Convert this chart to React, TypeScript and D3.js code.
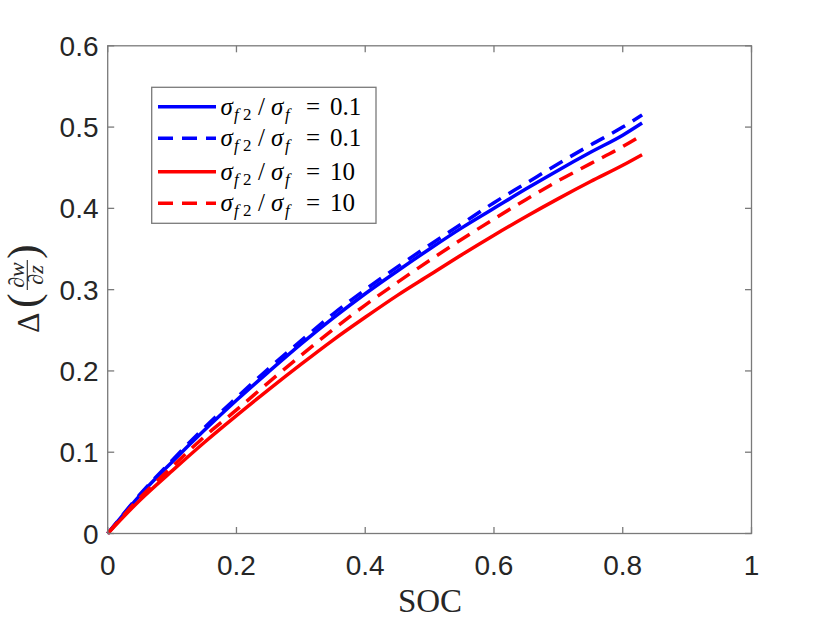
import React from "react";
import * as d3 from "d3";

const soc = [0, 0.05, 0.1, 0.15, 0.2, 0.25, 0.3, 0.35, 0.4, 0.45, 0.5, 0.55, 0.6, 0.65, 0.7, 0.75, 0.8, 0.83];
const blueSolid = [0, 0.047, 0.088, 0.127, 0.164, 0.199, 0.233, 0.265, 0.295, 0.323, 0.35, 0.376, 0.4, 0.424, 0.447, 0.469, 0.49, 0.505];
const blueDashed = [0, 0.048, 0.09, 0.13, 0.167, 0.203, 0.237, 0.27, 0.3, 0.328, 0.355, 0.381, 0.407, 0.431, 0.455, 0.478, 0.5, 0.515];
const redSolid = [0, 0.041, 0.077, 0.112, 0.145, 0.177, 0.208, 0.238, 0.266, 0.293, 0.318, 0.343, 0.367, 0.39, 0.412, 0.433, 0.453, 0.466];
const redDashed = [0, 0.044, 0.082, 0.119, 0.152, 0.186, 0.219, 0.251, 0.281, 0.309, 0.336, 0.362, 0.387, 0.411, 0.434, 0.455, 0.476, 0.49];

const xTicks = [0, 0.2, 0.4, 0.6, 0.8, 1];
const yTicks = [0, 0.1, 0.2, 0.3, 0.4, 0.5, 0.6];
const legendValues = ["0.1", "0.1", "10", "10"];

const series = [
  { values: blueSolid, color: "#0000ff", dashed: false },
  { values: blueDashed, color: "#0000ff", dashed: true },
  { values: redSolid, color: "#ff0000", dashed: false },
  { values: redDashed, color: "#ff0000", dashed: true },
];

const x = d3.scaleLinear().domain([0, 1]).range([107.7, 751.5]);
const y = d3.scaleLinear().domain([0, 0.6]).range([533.5, 45.8]);

const AXIS = "#7a7a7a";
const TEXT = "#262626";
const DASH = "15 9";
const SANS = "'Liberation Sans'";
const SERIF = "'Liberation Serif'";

export default function App() {
  const line = d3
    .line<number>()
    .x((_, i) => x(soc[i]))
    .y((d) => y(d))
    .curve(d3.curveMonotoneX);

  const [x0, x1] = x.range();
  const [y0, y1] = y.range();
  const tickLen = 6.5;

  const legX = 151.7, legY = 87.3, legW = 224.3, legH = 136;
  const rowY = [106.7, 138.3, 171.7, 203.3];

  return (
    <svg width={830} height={623} style={{ position: "absolute", left: 0, top: 0, background: "#fff" }}>
      <rect x={0} y={0} width={830} height={623} fill="#fff" />
      {series.map((s, k) => (
        <path
          key={k}
          d={line(s.values) || ""}
          fill="none"
          stroke={s.color}
          strokeWidth={3.5}
          strokeDasharray={s.dashed ? DASH : undefined}
        />
      ))}
      <rect x={x0} y={y1} width={x1 - x0} height={y0 - y1} fill="none" stroke={AXIS} strokeWidth={1.3} />
      {xTicks.map((t) => (
        <g key={"x" + t}>
          <line x1={x(t)} x2={x(t)} y1={y0} y2={y0 - tickLen} stroke={AXIS} strokeWidth={1.3} />
          <line x1={x(t)} x2={x(t)} y1={y1} y2={y1 + tickLen} stroke={AXIS} strokeWidth={1.3} />
          <text x={x(t)} y={575} textAnchor="middle" style={{ fontFamily: SANS }} fontSize={28} fill={TEXT}>
            {String(t)}
          </text>
        </g>
      ))}
      {yTicks.map((t) => (
        <g key={"y" + t}>
          <line x1={x0} x2={x0 + tickLen} y1={y(t)} y2={y(t)} stroke={AXIS} strokeWidth={1.3} />
          <line x1={x1} x2={x1 - tickLen} y1={y(t)} y2={y(t)} stroke={AXIS} strokeWidth={1.3} />
          <text x={98.5} y={y(t) + 10} textAnchor="end" style={{ fontFamily: SANS }} fontSize={28} fill={TEXT}>
            {String(t)}
          </text>
        </g>
      ))}
      <text x={430} y={611.7} textAnchor="middle" style={{ fontFamily: SERIF }} fontSize={33} fill={TEXT}>
        SOC
      </text>
      <g transform={`translate(27.3, 290) rotate(-90)`} style={{ fontFamily: SERIF }} fill={TEXT}>
        <text x={-43} y={12} fontSize={32}>Δ</text>
        <text x={-18} y={10.5} fontSize={44}>(</text>
        <text x={15} y={-3} fontSize={22} fontStyle="italic" textAnchor="middle">∂w</text>
        <line x1={0} x2={30} y1={0} y2={0} stroke={TEXT} strokeWidth={1.1} />
        <text x={15} y={16} fontSize={22} fontStyle="italic" textAnchor="middle">∂z</text>
        <text x={31} y={10.5} fontSize={44}>)</text>
      </g>
      <rect x={legX} y={legY} width={legW} height={legH} fill="#fff" stroke={AXIS} strokeWidth={1.3} />
      {series.map((s, k) => (
        <g key={"leg" + k}>
          <line
            x1={158}
            x2={216}
            y1={rowY[k]}
            y2={rowY[k]}
            stroke={s.color}
            strokeWidth={3.5}
            strokeDasharray={s.dashed ? DASH : undefined}
          />
          <text y={rowY[k] + 8} style={{ fontFamily: SERIF }} fontSize={25} fill="#000">
            <tspan x={220.5} fontStyle="italic">σ</tspan>
            <tspan x={234} dy={5} fontSize={17} fontStyle="italic">f</tspan>
            <tspan x={243} fontSize={17}>2</tspan>
            <tspan x={258} dy={-5}>/</tspan>
            <tspan x={271} fontStyle="italic">σ</tspan>
            <tspan x={285} dy={5} fontSize={17} fontStyle="italic">f</tspan>
            <tspan x={306} dy={-5}>=</tspan>
            <tspan x={330}>{legendValues[k]}</tspan>
          </text>
        </g>
      ))}
    </svg>
  );
}
